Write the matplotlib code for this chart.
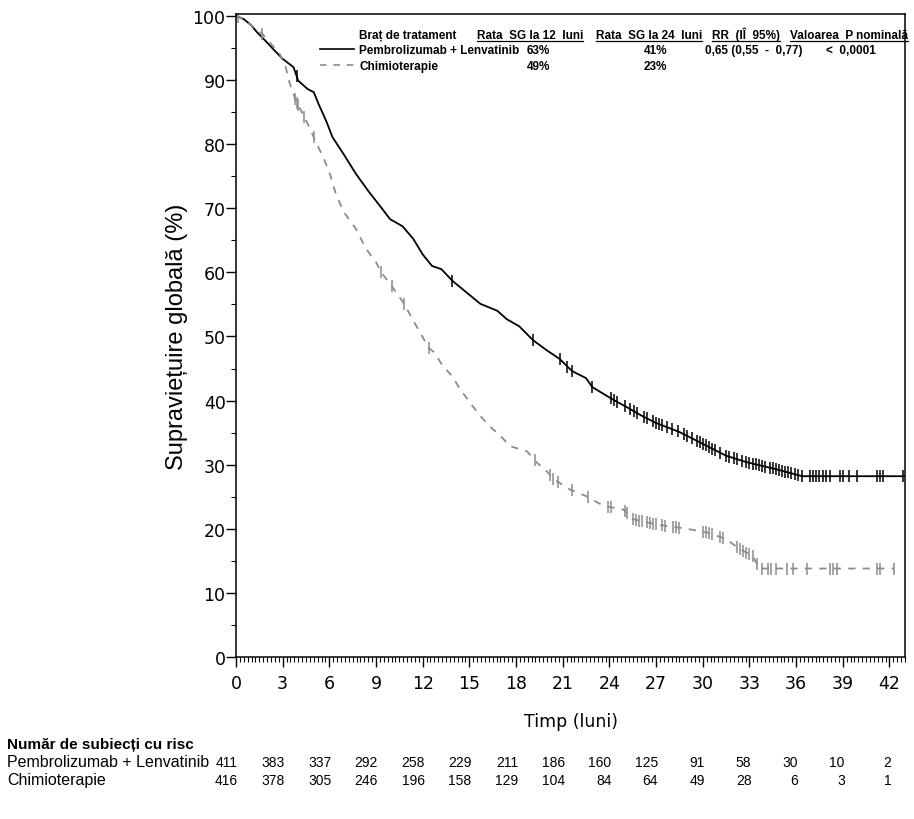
import numpy as np
import matplotlib
matplotlib.use('Agg')
import matplotlib.pyplot as plt
from matplotlib.lines import Line2D
from matplotlib.ticker import MultipleLocator

# curbe de supravietuire (luni, %)
t_pl = [0, 0.5, 1.0, 1.3, 1.9, 2.4, 3.0, 3.7, 4.0, 4.6, 5.0, 5.3, 5.8, 6.2, 6.9, 7.7, 8.5,
        9.4, 9.9, 10.7, 11.4, 12.0, 12.6, 13.2, 13.9, 14.8, 15.7, 16.8, 17.4, 18.2, 19.1,
        20.0, 20.8, 21.6, 22.5, 22.9, 24.2, 25.1, 26.1, 27.0, 28.5, 29.8, 31.5, 32.8,
        34.7, 36.4, 43.0]
s_pl = [100, 99.5, 98.5, 97.6, 96.1, 94.8, 93.3, 92.0, 89.9, 88.6, 88.1, 86.3, 83.6, 81.1,
        78.5, 75.4, 72.7, 69.9, 68.3, 67.2, 65.2, 62.8, 61.0, 60.5, 58.7, 56.9, 55.1, 54.0,
        52.7, 51.6, 49.4, 47.8, 46.5, 44.6, 43.5, 42.1, 40.2, 39.0, 37.6, 36.5, 35.1, 33.5,
        31.4, 30.4, 29.3, 28.2, 28.2]
t_ch = [0, 0.5, 1.0, 1.7, 2.3, 2.8, 3.2, 3.4, 3.85, 4.3, 4.7, 5.1, 5.6, 6.0, 6.4, 6.9, 7.7,
        8.35, 9.0, 9.3, 10.0, 10.8, 11.6, 12.4, 12.7, 13.3, 13.9, 14.4, 15.0, 15.7, 16.3,
        17.0, 17.6, 18.7, 19.3, 20.0, 20.4, 21.4, 22.5, 23.6, 24.9, 25.5, 27.2, 29.0, 30.3,
        31.5, 32.4, 33.2, 33.65, 42.3]
s_ch = [100, 99.5, 98.5, 97.2, 95.5, 94.1, 92.0, 89.9, 86.7, 84.7, 82.7, 80.5, 78.0, 75.6,
        72.4, 69.5, 66.8, 63.7, 61.6, 60.1, 57.9, 55.1, 51.6, 48.2, 47.6, 45.4, 43.8, 41.8,
        39.8, 37.6, 36.0, 34.5, 32.9, 32.1, 30.4, 28.9, 27.8, 26.2, 25.1, 23.6, 23.0, 21.5,
        20.6, 20.0, 19.4, 18.4, 16.8, 15.8, 13.8, 13.8]

# momente cenzurate
cens_pl = [3.9, 13.9, 19.1, 20.8, 21.3, 21.6, 22.9, 24.1, 24.3, 24.5, 25.0, 25.3, 25.6, 25.8,
           26.2, 26.4, 26.8, 27.0, 27.2, 27.4, 27.7, 28.0, 28.4, 28.8, 29.0, 29.3, 29.6, 29.8,
           30.0, 30.2, 30.4, 30.6, 30.8, 31.1, 31.5, 31.7, 32.0, 32.2, 32.5, 32.8, 33.0, 33.2,
           33.4, 33.6, 33.8, 34.0, 34.3, 34.5, 34.7, 34.9, 35.1, 35.3, 35.5, 35.7, 35.9, 36.1,
           36.4, 36.9, 37.1, 37.3, 37.5, 37.7, 37.9, 38.2, 38.8, 39.0, 39.4, 39.9, 41.2, 41.4,
           41.6, 42.9]
cens_ch = [0.15, 1.7, 3.8, 3.9, 4.0, 4.4, 5.0, 9.3, 10.0, 10.8, 12.4, 19.2, 20.2, 20.4, 20.7,
           21.6, 22.6, 23.9, 24.1, 25.0, 25.1, 25.5, 25.7, 25.9, 26.1, 26.4, 26.6, 26.8, 27.0,
           27.4, 27.6, 28.1, 28.3, 28.5, 30.0, 30.2, 30.4, 30.6, 31.1, 31.3, 32.2, 32.4, 32.6,
           32.8, 33.0, 33.2, 33.5, 33.8, 34.2, 34.4, 34.7, 35.4, 35.8, 36.7, 38.2, 38.4, 38.6,
           41.2, 41.4, 42.3]

risk_times = [0, 3, 6, 9, 12, 15, 18, 21, 24, 27, 30, 33, 36, 39, 42]
risk_pl = [411, 383, 337, 292, 258, 229, 211, 186, 160, 125, 91, 58, 30, 10, 2]
risk_ch = [416, 378, 305, 246, 196, 158, 129, 104, 84, 64, 49, 28, 6, 3, 1]

arm_names = ['Pembrolizumab + Lenvatinib', 'Chimioterapie']
rate12 = ['63%', '49%']
rate24 = ['41%', '23%']
hr_text = '0,65 (0,55  -  0,77)'
p_text = '<  0,0001'

gray = '#8c8c8c'
W, H = 914, 820
fig = plt.figure(figsize=(W / 100, H / 100), dpi=100)
ax = fig.add_axes([236 / W, 1 - 658 / H, (905 - 236) / W, (658 - 15) / H])

ax.plot(t_pl, s_pl, color='black', lw=1.3)
ax.plot(t_ch, s_ch, color=gray, lw=1.3, dashes=(4, 4))
ax.plot(cens_pl, np.interp(cens_pl, t_pl, s_pl), ls='none', marker='|',
        color='black', ms=9, mew=1.1)
ax.plot(cens_ch, np.interp(cens_ch, t_ch, s_ch), ls='none', marker='|',
        color=gray, ms=9, mew=1.1)

ax.set_xlim(0, 43.0)
ax.set_ylim(0, 100.3)
ax.xaxis.set_major_locator(MultipleLocator(3))
ax.xaxis.set_minor_locator(MultipleLocator(0.25))
ax.yaxis.set_major_locator(MultipleLocator(10))
ax.yaxis.set_minor_locator(MultipleLocator(5))
ax.tick_params(which='major', length=7, width=1, labelsize=12.5)
ax.tick_params(axis='y', which='major', pad=0.5)
ax.tick_params(axis='x', which='major', pad=5)
ax.tick_params(which='minor', length=3.5, width=0.8)
for lab in ax.get_xticklabels() + ax.get_yticklabels():
    lab.set_family('DejaVu Sans')
for sp in ax.spines.values():
    sp.set_linewidth(1.1)

ax.set_xlabel('Timp (luni)', fontsize=12.5, family='DejaVu Sans', labelpad=15)
ax.set_ylabel('Supraviețuire globală (%)', fontsize=17, family='Liberation Sans', labelpad=3)

# legenda-tabel
narrow = ['Liberation Sans Narrow', 'DejaVu Sans Condensed', 'Liberation Sans']
fs = 8.5
def ft(x, y, s, **kw):
    # y = linia de baza, in pixeli de sus
    return fig.text(x / W, 1 - y / H, s, fontsize=fs, fontweight='bold', family=narrow,
                    va='baseline', **kw)

ft(359, 39, 'Braț de tratament')
heads = [ft(477, 39, 'Rata  SG la 12  luni'), ft(596, 39, 'Rata  SG la 24  luni'),
         ft(712, 39, 'RR  (IÎ  95%)'), ft(790, 39, 'Valoarea  P nominală')]
for i, nm in enumerate(arm_names):
    y = 54 + 16 * i
    ft(359, y, nm)
    ft(527, y, rate12[i])
    ft(644, y, rate24[i])
fig.add_artist(Line2D([320 / W, 354 / W], [1 - 50 / H] * 2, color='black', lw=1.2))
fig.add_artist(Line2D([320 / W, 354 / W], [1 - 66 / H] * 2, color=gray, lw=1.2, dashes=(4, 4)))
ft(705, 54, hr_text)
ft(826, 54, p_text)

fig.canvas.draw()
inv = fig.transFigure.inverted()
for h in heads:
    bb = h.get_window_extent()
    x0, x1 = inv.transform([[bb.x0, 0], [bb.x1, 0]])[:, 0]
    yl = 1 - 41.5 / H
    fig.add_artist(Line2D([x0, x1], [yl, yl], color='black', lw=0.9))

# numar de subiecti cu risc
rf = ['Liberation Sans']
fig.text(7 / W, 1 - 745 / H, 'Număr de subiecți cu risc', fontsize=11, fontweight='bold',
         family=rf, va='center')
fig.text(7 / W, 1 - 763 / H, arm_names[0], fontsize=11.5, family=rf, va='center')
fig.text(7 / W, 1 - 781 / H, arm_names[1], fontsize=11.5, family=rf, va='center')
for t, a, b in zip(risk_times, risk_pl, risk_ch):
    xf = inv.transform(ax.transData.transform((t, 0)))[0] + 2 / W
    fig.text(xf, 1 - 763 / H, str(a), fontsize=10, family=narrow, ha='right', va='center')
    fig.text(xf, 1 - 781 / H, str(b), fontsize=10, family=narrow, ha='right', va='center')

fig.savefig('out.png', dpi=100)
